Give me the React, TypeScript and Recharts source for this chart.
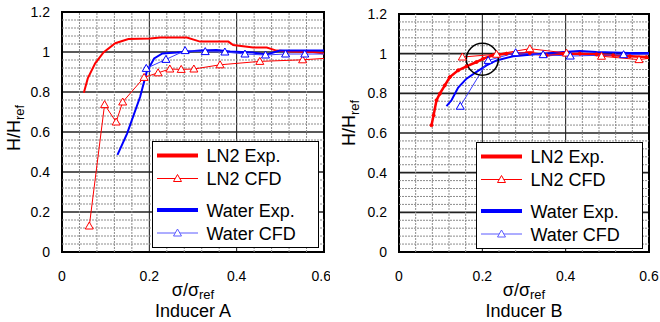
import {
  LineChart,
  Line,
  XAxis,
  YAxis,
  CartesianGrid,
  ReferenceLine,
  ReferenceArea,
  ReferenceDot,
  Legend,
} from 'recharts';

const FONT = '"Liberation Sans", Arial, Helvetica, sans-serif';
const RED = '#ff0000';
const BLUE = '#0000ff';
const BLUE_CFD = '#3a3aff';

// axis ticks
const xTicks = [0, 0.2, 0.4, 0.6];
const yTicks = [0, 0.2, 0.4, 0.6, 0.8, 1, 1.2];
const xMinor = [0.04, 0.08, 0.12, 0.16, 0.24, 0.28, 0.32, 0.36, 0.44, 0.48, 0.52, 0.56];
const yMinor = [
  0.04, 0.08, 0.12, 0.16, 0.24, 0.28, 0.32, 0.36, 0.44, 0.48, 0.52, 0.56,
  0.64, 0.68, 0.72, 0.76, 0.84, 0.88, 0.92, 0.96, 1.04, 1.08, 1.12, 1.16,
];

const seriesNames = ['LN2 Exp.', 'LN2 CFD', 'Water Exp.', 'Water CFD'];

// Inducer A
const aLn2ExpX = [0.05, 0.059, 0.076, 0.095, 0.122, 0.152, 0.202, 0.225, 0.286, 0.316, 0.381, 0.392, 0.438, 0.469, 0.491, 0.522, 0.575, 0.6];
const aLn2ExpY = [0.796, 0.868, 0.943, 0.998, 1.044, 1.065, 1.068, 1.072, 1.072, 1.052, 1.052, 1.035, 1.022, 1.022, 1.007, 1.002, 1.0, 0.993];
const aLn2CfdX = [0.0625, 0.0975, 0.124, 0.139, 0.188, 0.22, 0.247, 0.273, 0.302, 0.362, 0.453, 0.551, 0.65];
const aLn2CfdY = [0.13, 0.737, 0.65, 0.75, 0.873, 0.896, 0.915, 0.913, 0.915, 0.936, 0.953, 0.961, 0.975];
const aWaterExpX = [0.127, 0.149, 0.179, 0.194, 0.211, 0.23, 0.263, 0.316, 0.354, 0.385, 0.438, 0.469, 0.499, 0.545, 0.6];
const aWaterExpY = [0.486, 0.592, 0.776, 0.901, 0.968, 0.993, 0.997, 1.007, 1.01, 1.002, 0.997, 0.988, 1.007, 1.007, 1.007];
const aWaterCfdX = [0.193, 0.238, 0.282, 0.328, 0.373, 0.419, 0.466, 0.512, 0.556, 0.64];
const aWaterCfdY = [0.918, 0.963, 1.007, 1.002, 1.0, 0.99, 0.985, 0.99, 0.99, 0.99];

// Inducer B
const bLn2ExpX = [0.078, 0.083, 0.09, 0.098, 0.11, 0.122, 0.142, 0.162, 0.186, 0.202, 0.226, 0.258, 0.314, 0.354, 0.394, 0.434, 0.474, 0.514, 0.554, 0.594];
const bLn2ExpY = [0.639, 0.689, 0.765, 0.798, 0.84, 0.882, 0.916, 0.936, 0.958, 0.975, 0.992, 1.0, 1.003, 0.992, 1.0, 1.0, 0.997, 0.992, 0.987, 0.983];
const bLn2CfdX = [0.152, 0.234, 0.314, 0.402, 0.486, 0.576, 0.63];
const bLn2CfdY = [0.983, 0.997, 1.025, 1.003, 0.987, 0.97, 0.985];
const bWaterExpX = [0.114, 0.126, 0.142, 0.162, 0.186, 0.21, 0.234, 0.274, 0.314, 0.394, 0.434, 0.474, 0.554, 0.6];
const bWaterExpY = [0.735, 0.765, 0.829, 0.874, 0.908, 0.941, 0.966, 0.987, 0.995, 1.008, 1.013, 1.008, 1.003, 1.003];
const bWaterCfdX = [0.147, 0.214, 0.28, 0.346, 0.411, 0.539, 0.63];
const bWaterCfdY = [0.735, 0.966, 1.005, 0.995, 0.988, 0.995, 0.998];

const pts = (xs: number[], ys: number[]) => xs.map((x, i) => ({ x, y: ys[i] }));

const triangle = (cx: number, cy: number, color: string, key?: any) => (
  <path
    key={key}
    d={`M${cx},${cy - 4} L${cx + 4},${cy + 3} L${cx - 4},${cy + 3} Z`}
    fill="#fff"
    stroke={color}
    strokeWidth={1}
  />
);

const triDot = (color: string) => (p: any) => {
  if (p.cx == null || p.cy == null) return <g key={p.index} />;
  return triangle(p.cx, p.cy, color, p.index);
};

function LegendBox() {
  const rows = [
    { color: RED, y: 14.5, thick: true },
    { color: RED, y: 37.5, thick: false },
    { color: BLUE, y: 69, thick: true },
    { color: '#5b5bff', y: 92, thick: false },
  ];
  return (
    <svg width={168} height={108} style={{ display: 'block' }}>
      <rect x={0.5} y={0.5} width={166} height={106} fill="#fff" stroke="#000" strokeWidth={1} />
      {rows.map((r, i) => (
        <g key={i}>
          <line x1={5} x2={46} y1={r.y} y2={r.y} stroke={r.color} strokeWidth={r.thick ? 4 : 1} />
          {!r.thick && triangle(25.5, r.y, r.color)}
          <text x={54.5} y={r.y + 6.5} fontSize={18} fontFamily={FONT} fill="#000">
            {seriesNames[i]}
          </text>
        </g>
      ))}
    </svg>
  );
}

interface PanelProps {
  title: string;
  ln2Exp: { x: number; y: number }[];
  ln2Cfd: { x: number; y: number }[];
  waterExp: { x: number; y: number }[];
  waterCfd: { x: number; y: number }[];
  top: number;
  right: number;
  yWidth: number;
  yTitleX: number;
  yTitleShift: number;
  legendLeft: number;
  legendTop: number;
  denseLn2?: boolean;
  circle?: boolean;
}

function Panel(props: PanelProps) {
  const { title, top, right, yWidth, yTitleX, yTitleShift } = props;

  const xTitle = (p: any) => {
    const vb = p.viewBox || {};
    const cx = vb.x + vb.width / 2;
    return (
      <g fontFamily={FONT} fill="#000">
        <text x={cx} y={vb.y + 44} textAnchor="middle" fontSize={18}>
          σ/σ<tspan dy={3} fontSize={13}>ref</tspan>
        </text>
        <text x={cx} y={vb.y + 65} textAnchor="middle" fontSize={18}>
          {title}
        </text>
      </g>
    );
  };

  const yTitle = (p: any) => {
    const vb = p.viewBox || {};
    const cy = vb.y + vb.height / 2 + yTitleShift;
    return (
      <text
        x={yTitleX}
        y={cy}
        transform={`rotate(-90, ${yTitleX}, ${cy})`}
        textAnchor="middle"
        fontSize={18}
        fontFamily={FONT}
        fill="#000"
      >
        H/H<tspan dy={4} fontSize={13}>ref</tspan>
      </text>
    );
  };

  return (
    <LineChart width={330} height={322} margin={{ top, right, bottom: 0, left: 0 }}>
      {xMinor.map((v) => (
        <ReferenceLine key={'x' + v} x={v} stroke="#8c8c8c" strokeWidth={1} strokeDasharray="2 1" />
      ))}
      {yMinor.map((v) => (
        <ReferenceLine key={'y' + v} y={v} stroke="#8c8c8c" strokeWidth={1} strokeDasharray="2 1" />
      ))}
      <CartesianGrid stroke="#111" strokeWidth={1} vertical={true} horizontal={false} />
      <CartesianGrid stroke="#222" strokeWidth={1.6} vertical={false} horizontal={true} />
      <XAxis
        type="number"
        dataKey="x"
        domain={[0, 0.6]}
        ticks={xTicks}
        allowDataOverflow
        axisLine={false}
        tickLine={false}
        tickSize={0}
        tickMargin={19}
        height={70}
        tick={{ fill: '#000', fontSize: 14, fontFamily: FONT }}
        label={{ content: xTitle }}
      />
      <YAxis
        type="number"
        dataKey="y"
        domain={[0, 1.2]}
        ticks={yTicks}
        allowDataOverflow
        axisLine={false}
        tickLine={false}
        tickSize={0}
        tickMargin={12}
        width={yWidth}
        tick={{ fill: '#000', fontSize: 14, fontFamily: FONT }}
        label={{ content: yTitle }}
      />
      <Line
        data={props.ln2Exp}
        dataKey="y"
        stroke={RED}
        strokeWidth={props.denseLn2 ? 2.5 : 2}
        dot={props.denseLn2 ? { r: 1.5, fill: RED, stroke: RED, strokeWidth: 1 } : false}
        isAnimationActive={false}
      />
      <Line
        data={props.waterExp}
        dataKey="y"
        stroke={BLUE}
        strokeWidth={2}
        dot={false}
        isAnimationActive={false}
      />
      <Line
        data={props.ln2Cfd}
        dataKey="y"
        stroke={RED}
        strokeWidth={1}
        dot={triDot(RED)}
        isAnimationActive={false}
      />
      <Line
        data={props.waterCfd}
        dataKey="y"
        stroke={BLUE_CFD}
        strokeWidth={1}
        dot={triDot(BLUE)}
        isAnimationActive={false}
      />
      <ReferenceArea x1={0} x2={0.6} y1={0} y2={1.2} fill="none" stroke="#000" strokeWidth={2} />
      {props.circle && (
        <ReferenceDot x={0.2} y={0.972} r={16} fill="none" stroke="#000" strokeWidth={1.5} />
      )}
      <Legend
        layout="vertical"
        align="center"
        verticalAlign="middle"
        content={<LegendBox />}
        wrapperStyle={{ left: props.legendLeft, top: props.legendTop, width: 168 }}
      />
    </LineChart>
  );
}

export default function App() {
  return (
    <div style={{ position: 'absolute', left: 0, top: 0, width: 660, height: 322, background: '#fff' }}>
      <div style={{ position: 'absolute', left: 0, top: 0 }}>
        <Panel
          title="Inducer A"
          ln2Exp={pts(aLn2ExpX, aLn2ExpY)}
          ln2Cfd={pts(aLn2CfdX, aLn2CfdY)}
          waterExp={pts(aWaterExpX, aWaterExpY)}
          waterCfd={pts(aWaterCfdX, aWaterCfdY)}
          top={12}
          right={6}
          yWidth={62}
          yTitleX={20}
          yTitleShift={-4}
          legendLeft={152}
          legendTop={141}
        />
      </div>
      <div style={{ position: 'absolute', left: 330, top: 0 }}>
        <Panel
          title="Inducer B"
          ln2Exp={pts(bLn2ExpX, bLn2ExpY)}
          ln2Cfd={pts(bLn2CfdX, bLn2CfdY)}
          waterExp={pts(bWaterExpX, bWaterExpY)}
          waterCfd={pts(bWaterCfdX, bWaterCfdY)}
          top={14}
          right={11}
          yWidth={69}
          yTitleX={25}
          yTitleShift={-10}
          legendLeft={146}
          legendTop={142}
          denseLn2
          circle
        />
      </div>
    </div>
  );
}
